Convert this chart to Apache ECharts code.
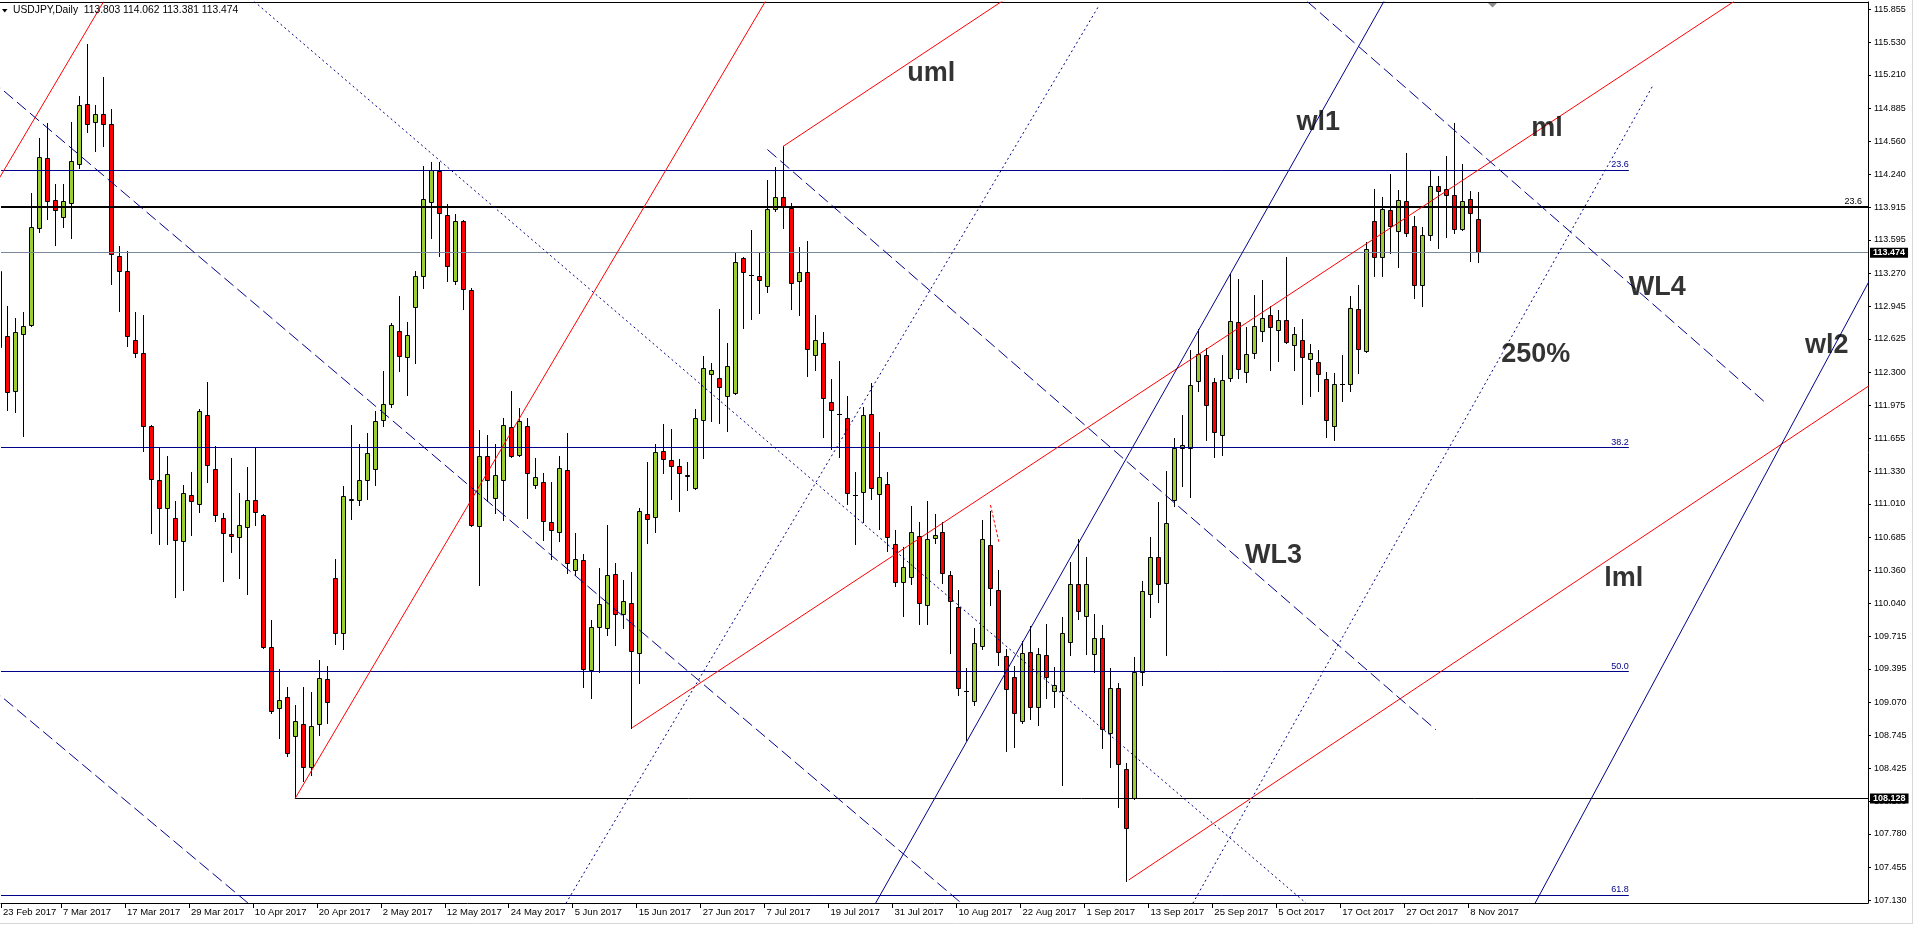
<!DOCTYPE html>
<html>
<head>
<meta charset="utf-8">
<title>USDJPY,Daily</title>
<script src="https://cdn.jsdelivr.net/npm/echarts@6/dist/echarts.min.js"></script>
<style>
html, body { margin: 0; padding: 0; background: #fff; }
#chart { width: 1920px; height: 928px; }
</style>
</head>
<body>
<div id="chart"></div>
<script>
// ==============================================================
// USDJPY daily bars, bar 0 = 23 Feb 2017 ... bar 185 = 9 Nov 2017
// ==============================================================
var opens = [113.29,112.65,112.12,112.67,112.76,113.71,114.40,113.99,113.82,113.96,
114.34,114.93,114.75,114.83,114.73,113.44,113.29,112.62,112.49,111.77,
111.24,110.97,110.87,110.65,111.10,111.01,111.88,111.35,110.87,110.72,
110.69,110.78,111.05,110.90,109.61,109.01,109.12,108.74,108.86,108.44,
108.86,109.30,110.29,109.75,111.06,111.05,111.24,111.35,111.83,111.99,
112.70,112.45,112.94,113.24,113.97,114.27,113.84,113.19,113.78,113.10,
110.79,111.48,111.07,111.24,111.76,111.49,111.77,111.20,111.23,110.83,
110.74,111.34,110.36,110.46,109.38,109.81,109.80,110.32,109.93,110.04,
109.55,110.91,110.88,111.53,111.44,111.38,111.29,111.17,111.83,112.28,
112.24,112.07,112.10,113.42,113.25,113.24,113.14,113.90,114.02,113.91,
113.19,113.28,112.47,112.59,112.01,111.89,111.85,111.10,111.13,111.89,
111.11,111.21,110.62,110.25,110.30,110.70,110.02,110.68,110.74,110.31,
110.00,109.18,109.08,109.62,110.61,110.17,109.52,109.32,108.89,109.56,
109.02,109.53,109.18,109.18,109.66,110.23,109.91,109.54,109.70,108.77,
109.21,108.42,108.13,109.37,110.13,110.49,110.24,111.05,111.56,111.56,
112.21,112.47,112.20,111.69,112.24,112.79,112.30,112.49,112.70,112.86,
112.71,112.81,112.57,112.62,112.43,112.40,112.23,111.77,112.18,112.18,
112.92,112.51,113.78,113.43,113.89,113.68,113.98,113.73,113.15,113.64,
114.12,114.09,114.03,113.70,114.00,113.803];
var highs = [113.45,112.95,112.83,112.89,114.05,114.59,114.74,114.14,114.14,114.75,
115.00,115.51,114.92,115.19,114.88,113.54,113.49,112.89,112.86,111.78,
111.57,111.48,111.04,111.20,111.32,111.94,112.20,111.58,110.92,111.46,
111.12,111.37,111.57,110.91,109.87,109.39,109.22,109.04,109.22,109.17,
109.48,109.42,110.47,111.19,111.78,111.60,111.70,111.92,112.31,112.78,
113.05,112.79,113.29,114.32,114.36,114.36,113.95,113.85,113.79,113.12,
111.73,111.69,111.60,111.85,112.12,111.95,111.85,111.46,111.31,111.23,
111.48,111.70,110.73,110.52,109.87,110.38,110.80,110.43,110.27,110.34,
110.97,111.42,111.60,111.79,111.74,111.45,111.42,111.94,112.46,112.39,
112.92,112.59,113.47,113.43,113.69,113.47,114.18,114.31,114.51,113.96,
113.53,113.58,112.86,112.69,112.23,112.41,112.07,111.32,111.96,112.19,
111.71,111.32,110.76,110.59,110.99,110.83,111.04,110.91,110.83,110.35,
110.17,109.40,109.80,110.85,110.94,110.36,109.59,109.42,109.67,109.82,
109.60,109.84,109.41,109.90,110.44,110.67,110.49,109.93,109.83,109.40,
109.26,108.47,109.51,110.26,110.69,111.03,111.33,111.66,111.88,112.52,
112.72,112.54,112.24,112.47,113.26,113.21,112.74,113.06,113.20,112.95,
112.91,113.43,112.74,112.82,112.58,112.52,112.30,112.29,112.47,113.05,
113.15,113.57,114.09,114.02,114.24,114.08,114.45,113.83,113.72,114.27,
114.22,114.42,114.74,114.34,114.07,114.062];
var lows = [112.50,111.93,111.91,111.68,112.75,113.67,113.80,113.55,113.72,113.61,
114.30,114.65,114.47,114.51,113.16,112.90,112.56,112.45,111.53,110.73,
110.62,110.62,110.10,110.17,110.71,110.93,111.23,110.84,110.26,110.54,
110.29,110.13,110.80,109.60,108.96,108.72,108.54,108.13,108.30,108.36,
108.75,108.87,109.64,109.59,110.86,111.00,111.06,111.20,111.77,111.96,
112.31,112.08,112.39,113.12,113.61,113.44,113.19,113.16,112.92,110.79,
110.22,111.04,110.92,110.85,111.47,111.48,110.87,111.17,110.66,110.47,
110.65,110.33,110.31,109.22,109.11,109.37,109.73,109.63,109.80,108.82,
109.26,110.63,110.74,111.31,111.06,110.94,111.15,111.16,111.46,111.82,
111.80,111.72,112.09,112.73,112.82,112.88,113.09,113.88,113.71,112.92,
112.86,112.26,112.32,111.67,111.55,111.47,111.01,110.62,110.83,111.06,
110.77,110.55,110.21,109.91,110.23,109.84,109.84,110.63,110.24,109.55,
109.14,108.70,109.04,109.59,110.02,109.43,108.59,108.63,108.87,108.91,
108.85,109.11,109.02,108.26,109.53,109.88,109.54,109.37,108.62,108.44,
108.04,107.32,108.12,109.24,109.90,110.05,109.53,110.99,111.19,111.08,
112.12,111.64,111.47,111.49,112.21,112.24,112.20,112.44,112.61,112.32,
112.41,112.59,112.32,111.99,112.07,112.12,111.67,111.64,112.02,112.12,
112.29,112.50,113.24,113.24,113.47,113.33,113.63,113.03,112.95,113.59,
113.52,113.62,113.66,113.69,113.39,113.381];
var closes = [112.55,112.11,112.69,112.75,113.72,114.41,113.98,113.89,113.98,114.37,
114.92,114.73,114.83,114.73,113.46,113.29,112.65,112.49,111.77,111.25,
110.97,111.30,110.66,111.12,111.04,111.92,111.39,110.90,110.73,110.70,
110.80,111.05,110.93,109.61,108.98,109.09,108.57,108.89,108.44,108.84,
109.31,109.07,109.75,111.09,111.05,111.24,111.51,111.82,111.99,112.76,
112.46,112.66,113.24,114.00,114.28,113.86,113.34,113.78,113.11,110.80,
111.48,111.24,111.29,111.78,111.48,111.82,111.31,111.27,110.84,110.76,
111.36,110.43,110.47,109.39,109.81,110.03,110.31,109.93,110.06,109.57,
110.94,110.86,111.52,111.45,111.38,111.31,111.28,111.85,112.34,112.32,
112.16,112.36,113.38,113.28,113.25,113.20,113.90,114.02,113.93,113.17,
113.28,112.53,112.62,112.05,111.93,111.89,111.12,111.10,111.88,111.17,
111.27,110.69,110.25,110.39,110.74,110.04,110.67,110.71,110.33,110.06,
109.21,109.18,109.65,110.67,110.19,109.56,109.20,108.96,109.55,109.02,
109.54,109.32,109.24,109.75,110.23,109.96,110.23,109.70,108.81,109.21,
108.46,107.84,109.37,110.16,110.49,110.23,110.82,111.56,111.59,112.17,
112.48,111.98,111.71,112.22,112.80,112.33,112.48,112.75,112.83,112.74,
112.81,112.60,112.67,112.45,112.49,112.28,111.83,112.18,112.18,112.93,
112.53,113.51,113.43,113.90,113.73,113.99,113.66,113.15,113.64,114.12,
114.07,114.03,113.70,113.98,113.86,113.474];

// time axis labels, one every 8 bars
var dateLabels = ['23 Feb 2017','7 Mar 2017','17 Mar 2017','29 Mar 2017','10 Apr 2017','20 Apr 2017',
  '2 May 2017','12 May 2017','24 May 2017','5 Jun 2017','15 Jun 2017','27 Jun 2017','7 Jul 2017',
  '19 Jul 2017','31 Jul 2017','10 Aug 2017','22 Aug 2017','1 Sep 2017','13 Sep 2017','25 Sep 2017',
  '5 Oct 2017','17 Oct 2017','27 Oct 2017','8 Nov 2017'];

// price scale labels
var priceTicks = [107.130,107.455,107.780,108.100,108.425,108.745,109.070,109.395,109.715,110.040,
  110.360,110.685,111.010,111.330,111.655,111.975,112.300,112.625,112.945,113.270,113.595,113.915,
  114.240,114.560,114.885,115.210,115.530,115.855];

// fibo levels
var fibNames = ['23.6', '38.2', '50.0', '61.8'];
var fibPrices = [114.275, 111.562, 109.370, 107.178];
var fibEnd = 203.84;

// horizontal levels
var bigLevel = 113.918;
var bidPrice = 113.474;
var lowLevel = 108.128, lowLevelBar = 37.04;

// trend lines / pitchfork, [bar, price] end points
var redLines = [
  [[-2, 113.93], [13.1, 115.93]],
  [[37.04, 108.128], [96, 115.95]],
  [[98.05, 114.51], [126, 115.96]],
  [[79.2, 108.82], [217, 115.93]],
  [[141.3, 107.33], [234.5, 112.20]]
];
var redDashLines = [
  [[124, 111.0], [125.05, 110.64]]
];
var blueLines = [
  [[109.4, 107.07], [173.5, 115.97]],
  [[192.1, 107.10], [234.5, 113.28]]
];
var dashLines = [
  [[-1, 115.16], [120.4, 107.10]],
  [[-1, 109.21], [31.2, 107.10]],
  [[96.1, 114.48], [179.7, 108.80]],
  [[163.6, 115.93], [221.1, 111.99]]
];
var dotLines = [
  [[31.9, 115.93], [163.5, 107.10]],
  [[70.9, 107.10], [137.5, 115.88]],
  [[149.3, 107.10], [206.8, 115.10]]
];

// text objects on the chart
var noteNames = ['uml', 'wl1', 'ml', 'WL4', '250%', 'wl2', 'lml', 'WL3'];
var noteBars = [116.6, 165.0, 193.6, 207.4, 192.2, 228.6, 203.2, 159.4];
var notePrices = [115.220, 114.74, 114.690, 113.132, 112.471, 112.561, 110.276, 110.501];

var FONT = '"Liberation Sans", Arial, sans-serif';
var NAVY = '#00008b';

var candles = [];
for (var i = 0; i < opens.length; i++) {
  candles.push([i, opens[i], highs[i], lows[i], closes[i]]);
}

function renderCandle(params, api) {
  var idx = api.value(0);
  var o = api.value(1), h = api.value(2), l = api.value(3), c = api.value(4);
  var pO = api.coord([idx, o]), pC = api.coord([idx, c]);
  var pH = api.coord([idx, h]), pL = api.coord([idx, l]);
  var x = Math.round(pO[0]) + 0.5;
  var top = Math.round(Math.min(pO[1], pC[1])) + 0.5;
  var bot = Math.round(Math.max(pO[1], pC[1])) + 0.5;
  var wick = {
    type: 'line',
    shape: { x1: x, y1: Math.round(pH[1]), x2: x, y2: Math.round(pL[1]) + 1 },
    style: { stroke: '#000', lineWidth: 1 }
  };
  var body;
  if (bot - top < 1) {
    body = {
      type: 'line',
      shape: { x1: x - 2.5, y1: top, x2: x + 2.5, y2: top },
      style: { stroke: '#000', lineWidth: 1 }
    };
  } else {
    body = {
      type: 'rect',
      shape: { x: x - 2, y: top, width: 4, height: bot - top },
      style: { fill: c >= o ? '#9acd32' : '#ff0000', stroke: '#000', lineWidth: 1 }
    };
  }
  return { type: 'group', children: [wick, body] };
}

function lineSeries(pts, color, type) {
  return {
    type: 'line',
    data: pts,
    showSymbol: false,
    symbol: 'none',
    silent: true,
    clip: true,
    z: 5,
    lineStyle: { color: color, width: 1, type: type },
    animation: false
  };
}

var series = [{
  type: 'custom',
  name: 'USDJPY',
  renderItem: renderCandle,
  data: candles,
  encode: { x: 0, y: [1, 2, 3, 4] },
  clip: true,
  z: 2,
  animation: false
}];

redLines.forEach(function (p) { series.push(lineSeries(p, '#ff0000', 'solid')); });
redDashLines.forEach(function (p) { series.push(lineSeries(p, '#ff0000', [3, 2])); });
blueLines.forEach(function (p) { series.push(lineSeries(p, NAVY, 'solid')); });
dashLines.forEach(function (p) { series.push(lineSeries(p, NAVY, [12, 5])); });
dotLines.forEach(function (p) { series.push(lineSeries(p, '#000080', [2, 3])); });

// fibo retracement
var fibData = fibPrices.map(function (p, k) {
  return [{ name: fibNames[k], coord: [0.25, p] }, { coord: [fibEnd, p] }];
});
series.push({
  type: 'line',
  data: [],
  silent: true,
  z: 4,
  markLine: {
    symbol: 'none',
    silent: true,
    animation: false,
    lineStyle: { color: NAVY, width: 1, type: 'solid' },
    label: {
      show: true, position: 'insideEndTop', formatter: '{b}', distance: [0, 1],
      color: NAVY, fontSize: 9, fontFamily: FONT
    },
    emphasis: { disabled: true },
    data: fibData
  }
});

// levels drawn across the chart
series.push({
  type: 'line',
  data: [],
  silent: true,
  z: 4,
  markLine: {
    symbol: 'none',
    silent: true,
    animation: false,
    emphasis: { disabled: true },
    data: [
      {
        yAxis: bigLevel,
        lineStyle: { color: '#000', width: 2, type: 'solid' },
        label: {
          show: true, position: 'insideEndTop', formatter: '23.6', distance: [6, 1],
          color: '#000', fontSize: 9, fontFamily: FONT
        }
      },
      {
        yAxis: bidPrice,
        lineStyle: { color: '#778899', width: 1, type: 'solid' },
        label: {
          show: true, position: 'end', formatter: bidPrice.toFixed(3), distance: 2,
          color: '#fff', backgroundColor: '#000', padding: [1, 3, 0, 3],
          fontSize: 9, fontWeight: 'bold', fontFamily: FONT
        }
      },
      [
        {
          coord: [lowLevelBar, lowLevel],
          lineStyle: { color: '#000', width: 1, type: 'solid' },
          label: {
            show: true, position: 'end', formatter: lowLevel.toFixed(3), distance: 2,
            color: '#fff', backgroundColor: '#000', padding: [1, 3, 0, 3],
            fontSize: 9, fontWeight: 'bold', fontFamily: FONT
          }
        },
        { coord: [233.75, lowLevel] }
      ]
    ]
  }
});

// text objects
series.push({
  type: 'scatter',
  silent: true,
  symbolSize: 1,
  z: 6,
  itemStyle: { color: 'rgba(0,0,0,0)' },
  label: {
    show: true, position: 'inside', formatter: '{b}',
    color: '#000', fontFamily: FONT, fontSize: 27, fontWeight: 'bold'
  },
  data: noteNames.map(function (n, k) {
    return { name: n, value: [noteBars[k], notePrices[k]] };
  }),
  animation: false
});

var dateTicks = dateLabels.map(function (d, k) { return k === 0 ? 0.25 : k * 8 - 0.25; });

var dom = document.getElementById('chart');
var myChart = echarts.init(dom);
var option = {
  backgroundColor: '#fff',
  animation: false,
  title: {
    text: 'USDJPY,Daily  113.803 114.062 113.381 113.474',
    left: 13, top: 5, padding: 0,
    textStyle: { fontSize: 10.3, fontWeight: 'normal', color: '#000', fontFamily: FONT }
  },
  grid: { left: 0, top: 2, right: 52, bottom: 25, containLabel: false },
  xAxis: {
    type: 'value',
    min: 0.25,
    max: 233.75,
    axisLine: { show: true, lineStyle: { color: '#000', width: 1 } },
    axisTick: { show: true, length: 5, customValues: dateTicks, lineStyle: { color: '#000' } },
    axisLabel: {
      show: true,
      customValues: dateTicks,
      align: 'left',
      margin: 4,
      padding: [0, 0, 0, 2],
      color: '#000',
      fontSize: 9.5,
      fontFamily: FONT,
      formatter: function (v) { return dateLabels[Math.round((v + 0.25) / 8)] || ''; }
    },
    splitLine: { show: false }
  },
  yAxis: {
    type: 'value',
    position: 'right',
    min: 107.104,
    max: 115.924,
    axisLine: { show: true, lineStyle: { color: '#000', width: 1 } },
    axisTick: { show: true, length: 3, customValues: priceTicks, lineStyle: { color: '#000' } },
    axisLabel: {
      show: true,
      customValues: priceTicks,
      margin: 6,
      color: '#000',
      fontSize: 9,
      fontFamily: FONT,
      formatter: function (v) { return v.toFixed(3); }
    },
    splitLine: { show: false }
  },
  graphic: [
    { type: 'line', shape: { x1: 0, y1: 2.5, x2: 1868, y2: 2.5 }, style: { stroke: '#000', lineWidth: 1 }, silent: true },
    { type: 'line', shape: { x1: 1912.5, y1: 0, x2: 1912.5, y2: 924 }, style: { stroke: '#d8d8d8', lineWidth: 1 }, silent: true },
    { type: 'line', shape: { x1: 0, y1: 923.5, x2: 1913, y2: 923.5 }, style: { stroke: '#d8d8d8', lineWidth: 1 }, silent: true },
    { type: 'polygon', shape: { points: [[2, 9], [7.5, 9], [4.75, 12.5]] }, style: { fill: '#000' }, silent: true },
    { type: 'polygon', shape: { points: [[1488, 3], [1497, 3], [1492.5, 7.5]] }, style: { fill: '#8c8c8c' }, silent: true }
  ],
  series: series
};

myChart.setOption(option, true);
</script>
</body>
</html>
